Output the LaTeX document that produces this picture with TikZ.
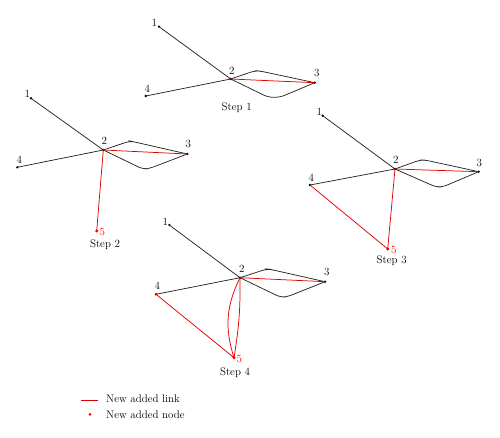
\documentclass[tikz,border=0pt]{standalone}
\begin{document}
\begin{tikzpicture}[x=1pt,y=-1pt,
  dot/.style={circle,fill=black,inner sep=0pt,minimum size=2.6pt},
  rdot/.style={circle,fill=red,inner sep=0pt,minimum size=3.4pt},
  lbl/.style={font=\fontsize{11}{13}\selectfont,inner sep=0pt},
  rlbl/.style={lbl,text=red},
  link/.style={line width=0.75pt,black!85},
  rlink/.style={line width=0.75pt,red!90!black},
  wing/.style={link,rounded corners=5pt}]
\useasboundingbox (0,0) rectangle (500,438);

% ---------- Step 1 ----------
\node[dot] (a1) at (159,26.7) {};
\node[dot] (a2) at (230.7,79) {};
\node[dot] (a3) at (314.7,82.7) {};
\node[dot] (a4) at (145.7,96) {};
\coordinate (au1) at (255,70.7); \coordinate (au2) at (260,71);
\coordinate (al1) at (268.3,97.3); \coordinate (al2) at (280,97.3);
\draw[link] (a1.center) -- (a2.center) -- (a4.center);
\draw[wing] (a2.center) -- (au1) -- (au2) -- (a3.center);
\draw[wing] (a2.center) -- (al1) -- (al2) -- (a3.center);
\draw[rlink] (a2.center) -- (a3.center);
\node[lbl] (ta1) at (154.3,22.7) {1};
\node[lbl] (ta2) at (231.7,70.7) {2};
\node[lbl] (ta3) at (316.7,73.3) {3};
\node[lbl] (ta4) at (147.3,88.7) {4};
\node[lbl] (sa) at (236.7,107.7) {Step 1};

% ---------- Step 2 ----------
\node[dot] (b1) at (31,98.3) {};
\node[dot] (b2) at (103.3,150) {};
\node[dot] (b3) at (187.3,154) {};
\node[dot] (b4) at (17.3,167.3) {};
\node[rdot] (b5) at (96.7,231) {};
\coordinate (bu1) at (130,141); \coordinate (bu2) at (133.3,141.7);
\coordinate (bl1) at (143.3,169.3); \coordinate (bl2) at (150,168.3);
\draw[link] (b1.center) -- (b2.center) -- (b4.center);
\draw[wing] (b2.center) -- (bu1) -- (bu2) -- (b3.center);
\draw[wing] (b2.center) -- (bl1) -- (bl2) -- (b3.center);
\draw[rlink] (b2.center) -- (b3.center);
\draw[rlink] (b2.center) -- (b5.center);
\node[lbl] (tb1) at (27.3,94) {1};
\node[lbl] (tb2) at (104.3,141) {2};
\node[lbl] (tb3) at (188.3,144) {3};
\node[lbl] (tb4) at (19.3,159.3) {4};
\node[rlbl] (tb5) at (102.3,232) {5};
\node[lbl] (sb) at (105,245) {Step 2};

% ---------- Step 3 ----------
\node[dot] (c1) at (322.7,115.7) {};
\node[dot] (c2) at (395,169) {};
\node[dot] (c3) at (478.7,171.7) {};
\node[dot] (c4) at (310,185) {};
\node[rdot] (c5) at (387.7,249) {};
\coordinate (cu1) at (420,160); \coordinate (cu2) at (425,160);
\coordinate (cl1) at (436.7,187.3); \coordinate (cl2) at (443.3,186.7);
\draw[link] (c1.center) -- (c2.center) -- (c4.center);
\draw[wing] (c2.center) -- (cu1) -- (cu2) -- (c3.center);
\draw[wing] (c2.center) -- (cl1) -- (cl2) -- (c3.center);
\draw[rlink] (c2.center) -- (c3.center);
\draw[rlink] (c2.center) -- (c5.center) -- (c4.center);
\node[lbl] (tc1) at (319.3,112.3) {1};
\node[lbl] (tc2) at (395.7,160) {2};
\node[lbl] (tc3) at (479.3,162.7) {3};
\node[lbl] (tc4) at (311.3,177.7) {4};
\node[rlbl] (tc5) at (393.7,250) {5};
\node[lbl] (sc) at (391.7,261) {Step 3};

% ---------- Step 4 ----------
\node[dot] (d1) at (169.3,225) {};
\node[dot] (d2) at (240,277.7) {};
\node[dot] (d3) at (325,281.7) {};
\node[dot] (d4) at (156,294.3) {};
\node[rdot] (d5) at (234,357.7) {};
\coordinate (du1) at (266.7,269); \coordinate (du2) at (270,269.3);
\coordinate (dl1) at (281,297.5); \coordinate (dl2) at (288,296.5);
\draw[link] (d1.center) -- (d2.center) -- (d4.center);
\draw[wing] (d2.center) -- (du1) -- (du2) -- (d3.center);
\draw[wing] (d2.center) -- (dl1) -- (dl2) -- (d3.center);
\draw[rlink] (d2.center) -- (d3.center);
\draw[rlink] (d2.center) to[bend right=22] (d5.center);
\draw[rlink] (d2.center) to[bend left=5] (d5.center);
\draw[rlink] (d5.center) -- (d4.center);
\node[lbl] (td1) at (165.3,221.7) {1};
\node[lbl] (td2) at (241.7,269) {2};
\node[lbl] (td3) at (326.7,272.3) {3};
\node[lbl] (td4) at (157.3,286) {4};
\node[rlbl] (td5) at (239.3,359) {5};
\node[lbl] (sd) at (235,372.3) {Step 4};

% ---------- Legend ----------
\coordinate (lg1) at (80.7,400); \coordinate (lg2) at (98.3,400);
\draw[rlink] (lg1) -- (lg2);
\node[rdot,minimum size=3pt] (lgd) at (90,414.3) {};
\node[lbl,anchor=west] (lgt1) at (106,399) {New added link};
\node[lbl,anchor=west] (lgt2) at (106,414.3) {New added node};
\end{tikzpicture}
\end{document}
